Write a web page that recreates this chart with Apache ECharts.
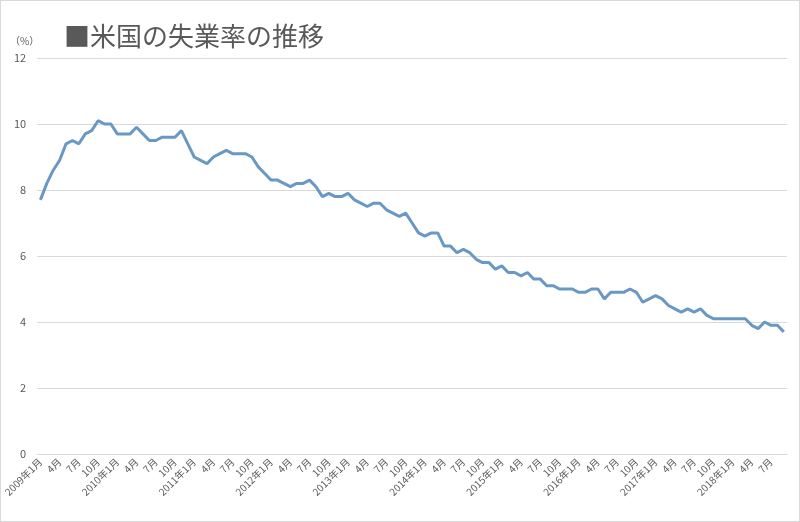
<!DOCTYPE html>
<html>
<head>
<meta charset="utf-8">
<script src="https://cdn.jsdelivr.net/npm/echarts@6/dist/echarts.min.js"></script>
<style>
html,body{margin:0;padding:0;background:#fff;}
#c{width:798px;height:520px;border:1px solid #d9d9d9;}
</style>
</head>
<body>
<div id="c"></div>
<script>
var startYear = 2009;
var yTicks = [0, 2, 4, 6, 8, 10, 12];
var rate2009 = [7.7, 8.2, 8.6, 8.9, 9.4, 9.5, 9.4, 9.7, 9.8, 10.1, 10.0, 10.0];
var rate2010 = [9.7, 9.7, 9.7, 9.9, 9.7, 9.5, 9.5, 9.6, 9.6, 9.6, 9.8, 9.4];
var rate2011 = [9.0, 8.9, 8.8, 9.0, 9.1, 9.2, 9.1, 9.1, 9.1, 9.0, 8.7, 8.5];
var rate2012 = [8.3, 8.3, 8.2, 8.1, 8.2, 8.2, 8.3, 8.1, 7.8, 7.9, 7.8, 7.8];
var rate2013 = [7.9, 7.7, 7.6, 7.5, 7.6, 7.6, 7.4, 7.3, 7.2, 7.3, 7.0, 6.7];
var rate2014 = [6.6, 6.7, 6.7, 6.3, 6.3, 6.1, 6.2, 6.1, 5.9, 5.8, 5.8, 5.6];
var rate2015 = [5.7, 5.5, 5.5, 5.4, 5.5, 5.3, 5.3, 5.1, 5.1, 5.0, 5.0, 5.0];
var rate2016 = [4.9, 4.9, 5.0, 5.0, 4.7, 4.9, 4.9, 4.9, 5.0, 4.9, 4.6, 4.7];
var rate2017 = [4.8, 4.7, 4.5, 4.4, 4.3, 4.4, 4.3, 4.4, 4.2, 4.1, 4.1, 4.1];
var rate2018 = [4.1, 4.1, 4.1, 3.9, 3.8, 4.0, 3.9, 3.9, 3.7];

var values = [].concat(rate2009, rate2010, rate2011, rate2012, rate2013,
  rate2014, rate2015, rate2016, rate2017, rate2018);
var categories = [];
for (var i = 0; i < values.length; i++) {
  var y = startYear + Math.floor(i / 12), m = i % 12 + 1;
  categories.push(m === 1 ? (y + '年1月') : (m + '月'));
}
var font = '"Noto Sans CJK JP", "Noto Sans", sans-serif';
var chart = echarts.init(document.getElementById('c'), null, {renderer: 'canvas'});
chart.setOption({
  animation: false,
  backgroundColor: '#fff',
  title: [{
    text: '■米国の失業率の推移',
    left: 58, top: 17,
    textStyle: {fontFamily: font, fontSize: 26, fontWeight: 'normal', color: '#595959'}
  }, {
    text: '（%）',
    left: 4, top: 30,
    textStyle: {fontFamily: font, fontSize: 10, fontWeight: 'normal', color: '#595959'}
  }],
  grid: {left: 34, right: 12, top: 57, bottom: 67},
  xAxis: {
    type: 'category',
    data: categories,
    boundaryGap: true,
    axisLine: {show: true, lineStyle: {color: '#d9d9d9', width: 1}},
    axisTick: {show: false},
    axisLabel: {
      interval: 2, rotate: 45, fontSize: 10, color: '#595959',
      fontFamily: font, margin: 6
    }
  },
  yAxis: {
    type: 'value',
    min: yTicks[0], max: yTicks[yTicks.length - 1], interval: 2,
    axisLine: {show: false},
    axisTick: {show: false},
    splitLine: {lineStyle: {color: '#d9d9d9', width: 1}},
    axisLabel: {fontSize: 11, color: '#595959', fontFamily: font, margin: 11}
  },
  series: [{
    type: 'line',
    data: values,
    symbol: 'none',
    lineStyle: {color: '#6a98c4', width: 3},
    itemStyle: {color: '#6a98c4'}
  }]
});
</script>
</body>
</html>
